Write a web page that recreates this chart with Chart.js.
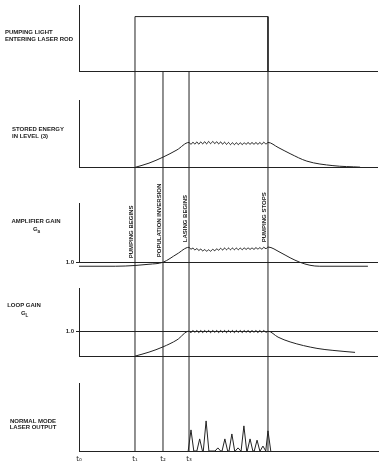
<!DOCTYPE html>
<html>
<head>
<meta charset="utf-8">
<script src="https://cdn.jsdelivr.net/npm/chart.js@4.4.0/dist/chart.umd.min.js"></script>
<style>
  html, body { margin: 0; padding: 0; background: #fff; }
  #wrap { width: 386px; height: 467px; }
</style>
</head>
<body>
<div id="wrap"><canvas id="chart" width="386" height="467"></canvas></div>
<script>
// time axis, arbitrary units (t0 = 0)
const T1 = 2.0;       // pumping begins
const T2 = 3.0;       // population inversion
const T3 = 3.93;      // lasing begins
const T_STOP = 6.75;  // pumping stops
const T_END = 10.68;

const tickTimes = [0, T1, T2, T3];
const tickLabels = ['t₀', 't₁', 't₂', 't₃'];

const eventTimes = [T1, T2, T3, T_STOP];
const eventLabels = ['PUMPING BEGINS', 'POPULATION INVERSION', 'LASING BEGINS', 'PUMPING STOPS'];

// pumping light (on / off)
const pumpTimes = [T1, T1, T_STOP, T_STOP];
const pumpLevel = [0, 1, 1, 0];

// sample times across the lasing plateau (shared by the three wiggly curves)
const wiggleTimes = [3.93, 4.00, 4.07, 4.14, 4.21, 4.28, 4.35, 4.42, 4.49, 4.56,
                     4.63, 4.70, 4.78, 4.85, 4.92, 4.99, 5.06, 5.13, 5.20, 5.27,
                     5.34, 5.41, 5.48, 5.55, 5.62, 5.69, 5.76, 5.83, 5.90, 5.97,
                     6.04, 6.11, 6.18, 6.25, 6.32, 6.39, 6.46, 6.53, 6.60, 6.68, 6.75];

// stored energy in level 3
const energyRiseT = [2.0, 2.5, 3.0, 3.5];
const energyRise = [0, 0.17, 0.41, 0.7];
const energyWiggle = [1.00, 0.92, 1.01, 0.93, 1.02, 0.93, 1.02, 0.94, 1.03, 0.94,
                      1.04, 0.95, 1.04, 0.95, 1.03, 0.94, 1.02, 0.93, 1.01, 0.92,
                      1.00, 0.91, 0.99, 0.91, 0.99, 0.91, 0.99, 0.91, 0.99, 0.92,
                      1.00, 0.92, 1.00, 0.92, 1.00, 0.92, 1.00, 0.92, 1.01, 0.93, 1.00];
const energyDecayT = [7.11, 7.54, 8.14, 9.07, 10.04];
const energyDecay = [0.8, 0.55, 0.25, 0.07, 0.01];

// amplifier gain Ga
const gainRiseT = [0, 1.3, 2.0, 2.5, 3.0, 3.5];
const gainRise = [0.84, 0.84, 0.87, 0.92, 1.0, 1.33];
const gainWiggle = [1.60, 1.52, 1.57, 1.49, 1.55, 1.47, 1.53, 1.45, 1.51, 1.44,
                    1.50, 1.44, 1.52, 1.46, 1.54, 1.48, 1.56, 1.49, 1.57, 1.50,
                    1.57, 1.50, 1.57, 1.50, 1.57, 1.50, 1.57, 1.50, 1.58, 1.51,
                    1.58, 1.51, 1.58, 1.51, 1.59, 1.52, 1.59, 1.52, 1.60, 1.54, 1.61];
const gainDecayT = [7.18, 7.54, 7.89, 8.25, 8.6, 10.32];
const gainDecay = [1.4, 1.18, 1.0, 0.88, 0.84, 0.84];

// loop gain GL
const loopRiseT = [2.0, 2.5, 3.0, 3.5];
const loopRise = [0, 0.16, 0.37, 0.65];
const loopWiggle = [1.00, 0.94, 1.03, 0.95, 1.03, 0.94, 1.03, 0.94, 1.03, 0.95,
                    1.03, 0.94, 1.03, 0.95, 1.03, 0.94, 1.03, 0.95, 1.03, 0.94,
                    1.03, 0.95, 1.03, 0.94, 1.03, 0.95, 1.03, 0.94, 1.03, 0.95,
                    1.03, 0.94, 1.03, 0.95, 1.03, 0.94, 1.03, 0.95, 1.03, 0.95, 1.00];
const loopDecayT = [7.11, 7.54, 8.5, 9.07, 9.86];
const loopDecay = [0.76, 0.57, 0.31, 0.23, 0.15];

// normal mode laser output: spike times and heights
const laserPeakT = [4.0, 4.31, 4.54, 4.96, 5.21, 5.46, 5.68, 5.89, 6.11, 6.36, 6.57, 6.75];
const laserPeak = [0.68, 0.39, 0.97, 0.1, 0.39, 0.55, 0.1, 0.81, 0.39, 0.35, 0.16, 0.65];

// ---------------------------------------------------------------------------
const INK = '#222';
const LABEL_FONT = 'bold 6px "Liberation Sans", Arial, sans-serif';
const SPIKE_HALF_WIDTH = 0.1;

const pts = (xs, ys) => xs.map((x, i) => ({x: x, y: ys[i]}));

const laserPoints = [];
laserPeakT.forEach((t, i) => {
    laserPoints.push({x: t - SPIKE_HALF_WIDTH, y: 0}, {x: t, y: laserPeak[i]},
                     {x: t + SPIKE_HALF_WIDTH, y: 0});
});

function curve(axis, data) {
    return {
        yAxisID: axis, data: data, borderColor: INK, borderWidth: 1,
        pointRadius: 0, cubicInterpolationMode: 'monotone', clip: false
    };
}

function straight(axis, data) {
    return {
        yAxisID: axis, data: data, borderColor: INK, borderWidth: 1,
        pointRadius: 0, tension: 0, clip: false
    };
}

// one band of the stacked left axis per panel
function panelScale(min, max, weight, tickValues, labelled) {
    return {
        type: 'linear', position: 'left', stack: 'panels', stackWeight: weight,
        min: min, max: max,
        border: {display: true, color: INK, width: 1},
        grid: {
            color: INK, lineWidth: 1, drawTicks: labelled, tickLength: 3,
            tickColor: c => (c.tick && c.tick.value === 1) ? INK : 'rgba(0,0,0,0)'
        },
        ticks: {
            display: labelled, padding: 2, color: INK,
            font: {family: 'Liberation Sans', size: 6, weight: 'bold'},
            callback: v => v === 1 ? '1.0' : ''
        },
        afterBuildTicks: s => { s.ticks = tickValues.map(v => ({value: v})); },
        afterFit: s => { s.width = 20; }
    };
}

function gapScale(weight) {
    return {type: 'linear', position: 'left', stack: 'panels', stackWeight: weight, display: false};
}

const panelTitles = [
    {axis: 'yP1', x: 5, align: 'left', dy: 27, lines: ['PUMPING LIGHT', 'ENTERING LASER ROD']},
    {axis: 'yP2', x: 12, align: 'left', dy: 29, lines: ['STORED ENERGY', 'IN LEVEL (3)']},
    {axis: 'yP3', x: 36, align: 'center', dy: 18, lines: ['AMPLIFIER GAIN'], sub: ['G', 'a']},
    {axis: 'yP4', x: 24, align: 'center', dy: 17, lines: ['LOOP GAIN'], sub: ['G', 'L']},
    {axis: 'yP5', x: 33, align: 'center', dy: 38, lines: ['NORMAL MODE', 'LASER OUTPUT']}
];
const EVENT_LABEL_LIFT = [4, 5, 20, 20];

const figureMarks = {
    id: 'figureMarks',
    afterDatasetsDraw(chart) {
        const {ctx, scales} = chart;
        const xs = scales.x;
        const top = scales.yP1.getPixelForValue(0);
        const bottom = scales.yP5.getPixelForValue(0);
        ctx.save();
        ctx.strokeStyle = INK;
        ctx.lineWidth = 1;
        eventTimes.forEach(t => {
            const px = xs.getPixelForValue(t);
            ctx.beginPath();
            ctx.moveTo(px, top);
            ctx.lineTo(px, bottom);
            ctx.stroke();
        });

        ctx.fillStyle = INK;
        ctx.font = LABEL_FONT;
        ctx.textBaseline = 'middle';
        ctx.textAlign = 'left';
        eventLabels.forEach((label, i) => {
            const px = xs.getPixelForValue(eventTimes[i]) - 4;
            const py = scales.yP3.bottom - EVENT_LABEL_LIFT[i];
            ctx.save();
            ctx.translate(px, py);
            ctx.rotate(-Math.PI / 2);
            ctx.fillText(label, 0, 0);
            ctx.restore();
        });

        panelTitles.forEach(p => {
            const y0 = scales[p.axis].top + p.dy;
            ctx.font = LABEL_FONT;
            ctx.textAlign = p.align;
            p.lines.forEach((line, j) => ctx.fillText(line, p.x, y0 + j * 6.5));
            if (p.sub) {
                const y = y0 + p.lines.length * 8.5;
                ctx.textAlign = 'left';
                ctx.fillText(p.sub[0], p.x - 3, y);
                ctx.font = 'bold 4.5px "Liberation Sans", Arial, sans-serif';
                ctx.fillText(p.sub[1], p.x + 1.5, y + 2);
            }
        });
        ctx.restore();
    }
};

new Chart(document.getElementById('chart'), {
    type: 'line',
    data: {
        datasets: [
            straight('yP1', pts(pumpTimes, pumpLevel)),
            curve('yP2', pts([...energyRiseT, ...wiggleTimes, ...energyDecayT],
                             [...energyRise, ...energyWiggle, ...energyDecay])),
            curve('yP3', pts([...gainRiseT, ...wiggleTimes, ...gainDecayT],
                             [...gainRise, ...gainWiggle, ...gainDecay])),
            curve('yP4', pts([...loopRiseT, ...wiggleTimes, ...loopDecayT],
                             [...loopRise, ...loopWiggle, ...loopDecay])),
            straight('yP5', laserPoints)
        ]
    },
    options: {
        responsive: false,
        animation: false,
        devicePixelRatio: 1,
        layout: {padding: {top: 5, left: 59, right: 8, bottom: 0}},
        plugins: {legend: {display: false}, tooltip: {enabled: false}},
        scales: {
            x: {
                type: 'linear', position: 'bottom', min: 0, max: T_END,
                grid: {display: false, drawTicks: false},
                border: {display: true, color: INK, width: 1},
                ticks: {
                    padding: 4, color: INK, autoSkip: false, maxRotation: 0,
                    font: {family: 'DejaVu Sans', size: 7},
                    callback: (v, i) => tickLabels[i]
                },
                afterBuildTicks: s => { s.ticks = tickTimes.map(v => ({value: v})); },
                afterFit: s => { s.height = 16; }
            },
            // stacked bottom-up: the last one listed sits at the top
            yP5: panelScale(0, 2.19, 68, [], false),
            gap4: gapScale(27),
            yP4: panelScale(0, 2.72, 68, [0, 1], true),
            gap3: gapScale(26),
            yP3: panelScale(1, 3.36, 59, [1], true),
            gap2: gapScale(36),
            yP2: panelScale(0, 2.68, 67, [0], false),
            gap1: gapScale(29),
            yP1: panelScale(0, 1.2, 66, [0], false)
        }
    },
    plugins: [figureMarks]
});
</script>
</body>
</html>
